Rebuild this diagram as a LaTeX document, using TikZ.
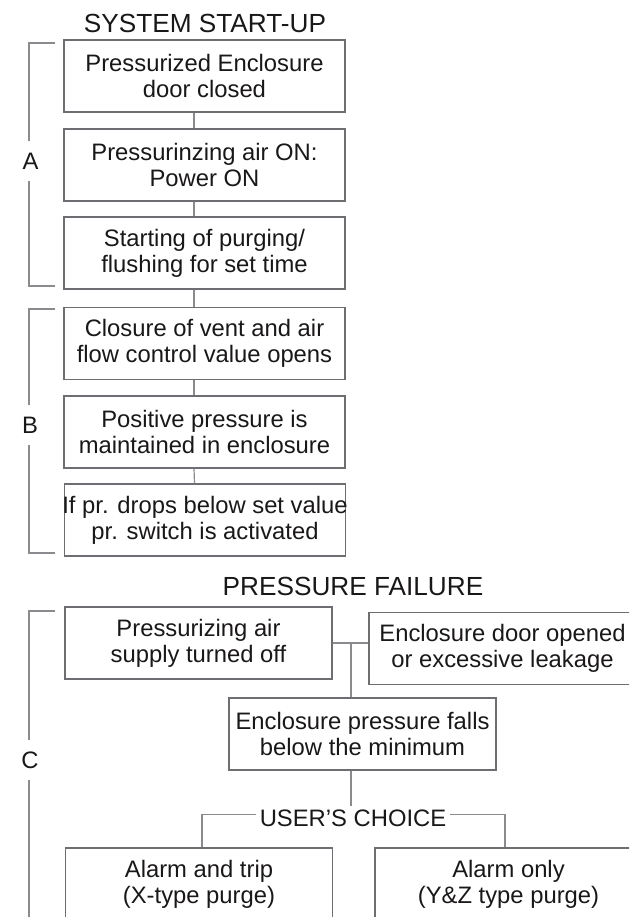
\documentclass[tikz,border=0pt]{standalone}
\usepackage{fontspec}
\setmainfont{Liberation Sans}
\usepackage{tikz}
\usetikzlibrary{positioning, calc}
\definecolor{boxgray}{HTML}{6D6E71}
\definecolor{linegray}{HTML}{8A8B8E}
\definecolor{inkdark}{HTML}{1A1718}
\newcommand{\boxfont}{\fontsize{23.8}{26}\selectfont}
\newcommand{\headfont}{\fontsize{26.2}{30}\selectfont}
\tikzset{
  stage/.style={draw=boxgray, line width=1.2pt, minimum width=281pt, minimum height=72pt,
    inner sep=0pt, align=center, font=\boxfont, text=inkdark},
  cstage/.style={stage, minimum width=267pt},
  link/.style={draw=linegray, line width=1.2pt},
  bracket/.style={draw=linegray, line width=1.2pt},
  head/.style={font=\headfont, text=inkdark, inner sep=0pt},
  tag/.style={font=\boxfont, text=inkdark, inner sep=0pt, minimum height=40pt}
}
\begin{document}
\begin{tikzpicture}[x=1pt, y=-1pt]
		\useasboundingbox (0,0) rectangle (629,917);
		\clip (0,0) rectangle (629,917);
		\pgfmathsetmacro{\linkx}{-10.5}
		%% system start-up
		\node[head] (hstart) at (205,23.7) {SYSTEM START-UP};
		\node[stage] (b1) at (204.5,76) {Pressurized Enclosure\\door closed};
		\node[stage] (b2) at (204.5,165) {Pressurinzing air ON:\\Power ON};
		\node[stage] (b3) at (204.5,253) {Starting of purging/\\flushing for set time};
		\node[stage] (b4) at (204.5,343.5) {Closure of vent and air\\flow control value opens};
		\node[stage] (b5) at (204.5,432) {Positive pressure is\\maintained in enclosure};
		\node[stage] (b6) at (205,520) {\makebox[0pt]{If pr. drops below set value}\\pr. switch is activated};
		\foreach \a/\b in {b1/b2, b2/b3, b3/b4, b4/b5, b5/b6}
			\draw[link] ([xshift=\linkx pt]\a.south) -- ([xshift=\linkx pt]\b.north);
		%% pressure failure
		\node[head] (hfail) at (353,586) {PRESSURE FAILURE};
		\node[cstage] (c1) at (198.5,643) {Pressurizing air\\supply turned off};
		\node[cstage] (c2) at (502.5,648.5) {Enclosure door opened\\or excessive leakage};
		\node[cstage] (c3) at (362.5,734) {Enclosure pressure falls\\below the minimum};
		\node[font=\boxfont, text=inkdark, inner sep=4pt] (uc) at (353,818.3) {USER'S CHOICE};
		\node[cstage] (c4) at (199,884) {Alarm and trip\\(X-type purge)};
		\node[cstage] (c5) at (508.5,884) {Alarm only\\(Y\&Z type purge)};
		\coordinate (join) at (351,643);
		\draw[link] (c1.east) -- (c1.east -| c2.west);
		\draw[link] (join) -- (join |- c3.north);
		\draw[link] (c3.south -| join) -- (uc.north -| join);
		\draw[link] ([yshift=4pt]uc.west) -| ([xshift=3pt]c4.north);
		\draw[link] ([yshift=4pt]uc.east) -| ([xshift=-3.5pt]c5.north);
		%% brackets
		\node[tag] (tA) at (30.5,161) {A};
		\node[tag] (tB) at (30,425) {B};
		\node[tag] (tC) at (30,760) {C};
		\draw[bracket] (55,43) -| (tA.north -| 29,0);
		\draw[bracket] (tA.south -| 29,0) |- (55,286);
		\draw[bracket] (55,309) -| (tB.north -| 29,0);
		\draw[bracket] (tB.south -| 29,0) |- (55,553);
		\draw[bracket] (55,611) -| (tC.north -| 29,0);
		\draw[bracket] (tC.south -| 29,0) -- (29,930);
\end{tikzpicture}
\end{document}
